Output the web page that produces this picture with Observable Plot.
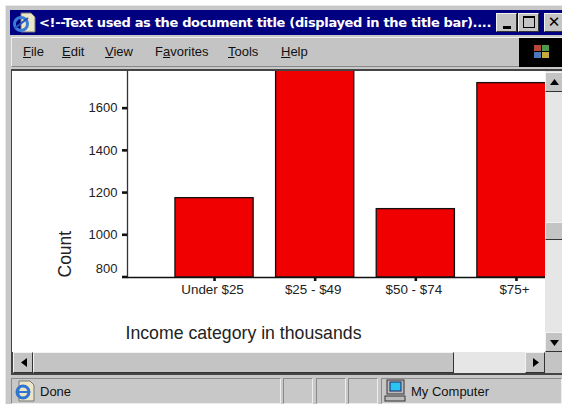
<!DOCTYPE html>
<html><head><meta charset="utf-8">
<script src="https://cdn.jsdelivr.net/npm/d3@7"></script>
<script src="https://cdn.jsdelivr.net/npm/@observablehq/plot@0.6"></script>
<style>
html,body{margin:0;padding:0;background:#fff;overflow:hidden}
#win{position:relative;width:562px;height:404px;overflow:hidden;font-family:"Liberation Sans",Arial,sans-serif;color:#111}
#win div{position:absolute;box-sizing:border-box}
.t{white-space:nowrap;font-size:13px;line-height:16px}
.raised{background:#c4c4c4;border-top:1px solid #f2f2f2;border-left:1px solid #f2f2f2;border-right:1.5px solid #333;border-bottom:1.5px solid #333}
.sunk{border-top:1px solid #8a8a8a;border-left:1px solid #8a8a8a;border-right:1px solid #eee;border-bottom:1px solid #eee}
u{text-decoration:underline}
#plotbox{left:12px;top:71px;width:533px;height:281px;background:#fff;overflow:hidden}
#plotbox svg{display:block;background:#fff}
</style></head><body>
<div id="win">
  <div style="left:5px;top:5px;width:557px;height:399px;background:#c8c8c8;border-top:1px solid #e8e8e8;border-left:1px solid #e8e8e8"></div>
  <div style="left:10px;top:10px;width:552px;height:25px;background:#000080"></div>
  <svg style="position:absolute;left:12px;top:12px" width="24" height="22" viewBox="0 0 24 22"><path d="M9 1h10l4 4v15H9z" fill="#ece6c8" stroke="#777"/><circle cx="9" cy="12" r="6.5" fill="none" stroke="#3a7bd5" stroke-width="3"/><path d="M3 16 L16 6" stroke="#2255bb" stroke-width="2"/></svg>
  <div class="t" style="left:39px;top:14px;color:#fff;font:bold 13px/18px 'DejaVu Sans',sans-serif;letter-spacing:-.34px" id="title">&lt;!--Text used as the document title (displayed in the title bar)....</div>
  <div class="raised" style="left:496px;top:13px;width:21px;height:19px"><div style="left:6px;top:12px;width:8px;height:3px;background:#000"></div></div>
  <div class="raised" style="left:518px;top:13px;width:21px;height:19px"><div style="left:4px;top:2px;width:12px;height:12px;border:1px solid #000;border-top:2px solid #000"></div></div>
  <div class="raised" style="left:544px;top:13px;width:20px;height:19px;font:bold 15px/16px 'DejaVu Sans';text-align:center;color:#000">✕</div>

  <div style="left:11px;top:37px;width:551px;height:30px;background:#c4c4c4;border-top:1px solid #eee;border-left:1px solid #eee;border-bottom:1px solid #888"></div>
  <div class="t" style="left:23px;top:44px"><u>F</u>ile</div>
  <div class="t" style="left:62px;top:44px"><u>E</u>dit</div>
  <div class="t" style="left:105px;top:44px"><u>V</u>iew</div>
  <div class="t" style="left:155px;top:44px">F<u>a</u>vorites</div>
  <div class="t" style="left:228px;top:44px"><u>T</u>ools</div>
  <div class="t" style="left:281px;top:44px"><u>H</u>elp</div>
  <div style="left:519px;top:38px;width:43px;height:29px;background:#000"></div>
  <svg style="position:absolute;left:532px;top:42px" width="20" height="20" viewBox="0 0 20 20"><rect x="2" y="3" width="7" height="6" fill="#b5483a"/><rect x="10" y="3" width="7" height="6" fill="#4e9a4a"/><rect x="2" y="10" width="7" height="6" fill="#4a78b8"/><rect x="10" y="10" width="7" height="6" fill="#c8a838"/></svg>

  <div style="left:11px;top:69px;width:551px;height:2px;background:#444"></div>
  <div style="left:11px;top:69px;width:2px;height:306px;background:#444"></div>
  <div id="plotbox"></div>

  <div style="left:545px;top:71px;width:17px;height:283px;background:#e6e6e6"></div>
  <div class="raised" style="left:545px;top:72px;width:19px;height:20px"></div>
  <svg style="position:absolute;left:550px;top:79px" width="10" height="6"><path d="M0 6h9L4.500 0z" fill="#000"/></svg>
  <div class="raised" style="left:545px;top:222px;width:19px;height:18px"></div>
  <div class="raised" style="left:545px;top:332px;width:19px;height:20px"></div>
  <svg style="position:absolute;left:550px;top:340px" width="10" height="6"><path d="M0 0h9L4.500 6z" fill="#000"/></svg>

  <div style="left:13px;top:352px;width:532px;height:21px;background:#e6e6e6"></div>
  <div class="raised" style="left:13px;top:352px;width:20px;height:21px"></div>
  <svg style="position:absolute;left:21px;top:358px" width="6" height="10"><path d="M6 0v9L0 4.500z" fill="#000"/></svg>
  <div class="raised" style="left:33px;top:352px;width:421px;height:21px"></div>
  <div class="raised" style="left:525px;top:352px;width:20px;height:21px"></div>
  <svg style="position:absolute;left:533px;top:358px" width="6" height="10"><path d="M0 0v9L6 4.500z" fill="#000"/></svg>
  <div style="left:545px;top:352px;width:17px;height:21px;background:#c4c4c4"></div>
  <div style="left:11px;top:373px;width:551px;height:2px;background:#444"></div>

  <div class="sunk" style="left:11px;top:378px;width:270px;height:26px"></div>
  <div class="sunk" style="left:283px;top:378px;width:30px;height:26px"></div>
  <div class="sunk" style="left:316px;top:378px;width:30px;height:26px"></div>
  <div class="sunk" style="left:348px;top:378px;width:30px;height:26px"></div>
  <div class="sunk" style="left:381px;top:378px;width:181px;height:26px"></div>
  <svg style="position:absolute;left:13px;top:380px" width="22" height="22" viewBox="0 0 22 22"><path d="M6 1h11l4 4v16H6z" fill="#ece6c8" stroke="#777"/><circle cx="10" cy="12" r="6" fill="none" stroke="#2f74cf" stroke-width="3"/><path d="M4 12h12" stroke="#2f74cf" stroke-width="2"/></svg>
  <div class="t" style="left:40px;top:384px">Done</div>
  <svg style="position:absolute;left:383px;top:379px" width="24" height="24" viewBox="0 0 24 24"><rect x="4" y="1" width="17" height="14" fill="#bbb" stroke="#333"/><rect x="7" y="3" width="11" height="9" fill="#2bc4f0" stroke="#226"/><rect x="2" y="17" width="20" height="5" fill="#bbb" stroke="#333"/></svg>
  <div class="t" style="left:411px;top:384px">My Computer</div>
</div>
<script>
const categories = ["Under $25", "$25 - $49", "$50 - $74", "$75+"];
const counts = [1176, 1850, 1124, 1721];
const yTicks = [800, 1000, 1200, 1400, 1600];
const lowTick = [800];
const yAxisTitle = ["Count"];
const xAxisTitle = ["Income category in thousands"];
const table = categories.map((c, i) => ({category: c, count: counts[i]}));

const chart = Plot.plot({
  width: 533, height: 281,
  marginLeft: 115, marginRight: 0, marginTop: 0, marginBottom: 75,
  style: {fontFamily: '"Liberation Sans", Arial, sans-serif', background: "#fff", color: "#111", overflow: "hidden"},
  x: {type: "band", domain: categories, range: [140.5, 565.5], padding: 0.223, align: 0.5, round: false, label: null},
  y: {domain: [800, 1776], range: [206, 0], label: null},
  marks: [
    Plot.barY(table, {x: "category", y1: lowTick[0], y2: "count", fill: "#f00000", stroke: "#111", strokeWidth: 1.3, clip: true}),
    Plot.frame({anchor: "left", stroke: "#333", strokeWidth: 1.3}),
    Plot.frame({anchor: "bottom", stroke: "#111", strokeWidth: 1.3}),
    Plot.axisY({ticks: yTicks, tickSize: 5, tickPadding: 5, strokeWidth: 2.6, stroke: "#111", fontSize: 13, fill: "#222", label: null, dy: -0.5, tickFormat: d => lowTick.includes(d) ? "" : String(d)}),
    Plot.axisY({ticks: lowTick, tickSize: 0, tickPadding: 10, fontSize: 13, fill: "#222", label: null, dy: -9, tickFormat: d => String(d)}),
    Plot.axisX({tickSize: 4, strokeWidth: 2.6, stroke: "#111", label: null, tickFormat: () => ""}),
    Plot.axisX({tickSize: 0, tickPadding: 7, fontSize: 13.4, fill: "#222", label: null, dx: -2}),
    Plot.text(yAxisTitle, {frameAnchor: "bottom-left", rotate: -90, dx: -57, textAnchor: "start", fontSize: 17.5, fill: "#222"}),
    Plot.text(xAxisTitle, {frameAnchor: "bottom-left", dx: -2, dy: 61, textAnchor: "start", fontSize: 17.7, fill: "#222"})
  ]
});
document.getElementById("plotbox").appendChild(chart);
</script>
</body></html>
